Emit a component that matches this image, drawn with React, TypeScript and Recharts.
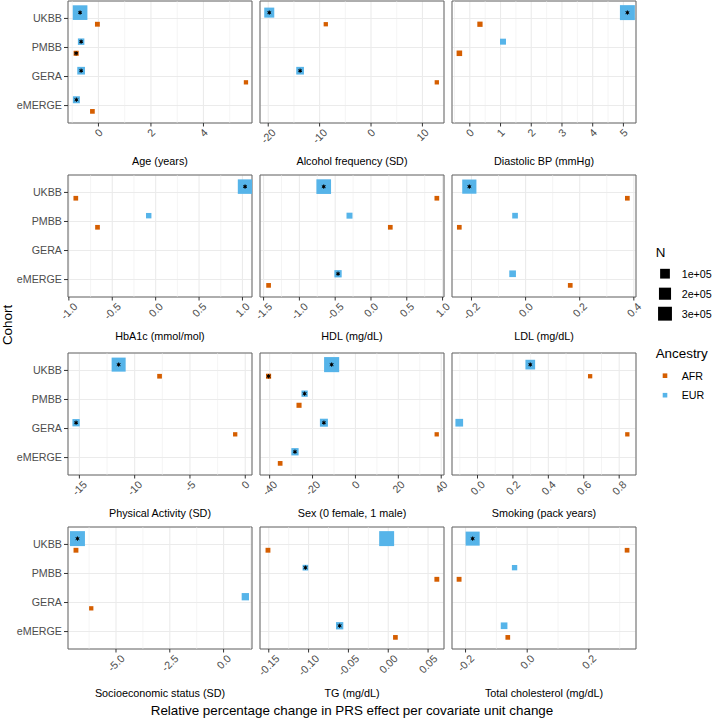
import React from "react";
import {
  CartesianGrid,
  ReferenceArea,
  ReferenceLine,
  Scatter,
  ScatterChart,
  XAxis,
  YAxis,
} from "recharts";

const COHORTS = ["UKBB", "PMBB", "GERA", "eMERGE"];
const ANCESTRIES = ["AFR", "EUR"];
const ANC_COLORS: Record<string, string> = { AFR: "#D55E00", EUR: "#56B4E9" };
const SIZE_BREAKS = [100000, 200000, 300000];
const SIZE_LABELS = ["1e+05", "2e+05", "3e+05"];

type Pt = { cohort: string; anc: "AFR" | "EUR"; x: number; n: number; sig?: boolean };

const ageYears: Pt[] = [
  { cohort: "UKBB", anc: "EUR", x: -0.7, n: 350000, sig: true },
  { cohort: "UKBB", anc: "AFR", x: -0.04, n: 5000 },
  { cohort: "PMBB", anc: "EUR", x: -0.66, n: 19000, sig: true },
  { cohort: "PMBB", anc: "AFR", x: -0.85, n: 6000, sig: true },
  { cohort: "GERA", anc: "EUR", x: -0.66, n: 41000, sig: true },
  { cohort: "GERA", anc: "AFR", x: 5.62, n: 4000 },
  { cohort: "eMERGE", anc: "EUR", x: -0.84, n: 27000, sig: true },
  { cohort: "eMERGE", anc: "AFR", x: -0.23, n: 4500 },
];

const alcohol: Pt[] = [
  { cohort: "UKBB", anc: "EUR", x: -19.8, n: 110000, sig: true },
  { cohort: "UKBB", anc: "AFR", x: -8.8, n: 4000 },
  { cohort: "GERA", anc: "EUR", x: -13.8, n: 41000, sig: true },
  { cohort: "GERA", anc: "AFR", x: 12.8, n: 4000 },
];

const diastolic: Pt[] = [
  { cohort: "UKBB", anc: "EUR", x: 5.13, n: 370000, sig: true },
  { cohort: "UKBB", anc: "AFR", x: 0.33, n: 7000 },
  { cohort: "PMBB", anc: "EUR", x: 1.08, n: 13000 },
  { cohort: "PMBB", anc: "AFR", x: -0.34, n: 9000 },
];

const hba1c: Pt[] = [
  { cohort: "UKBB", anc: "EUR", x: 1.03, n: 340000, sig: true },
  { cohort: "UKBB", anc: "AFR", x: -0.92, n: 4500 },
  { cohort: "PMBB", anc: "EUR", x: -0.08, n: 8000 },
  { cohort: "PMBB", anc: "AFR", x: -0.67, n: 4500 },
];

const hdl: Pt[] = [
  { cohort: "UKBB", anc: "EUR", x: -0.66, n: 350000, sig: true },
  { cohort: "UKBB", anc: "AFR", x: 0.92, n: 4500 },
  { cohort: "PMBB", anc: "EUR", x: -0.3, n: 13000 },
  { cohort: "PMBB", anc: "AFR", x: 0.27, n: 4500 },
  { cohort: "eMERGE", anc: "EUR", x: -0.46, n: 33000, sig: true },
  { cohort: "eMERGE", anc: "AFR", x: -1.43, n: 4500 },
];

const ldl: Pt[] = [
  { cohort: "UKBB", anc: "EUR", x: -0.208, n: 320000, sig: true },
  { cohort: "UKBB", anc: "AFR", x: 0.376, n: 4500 },
  { cohort: "PMBB", anc: "EUR", x: -0.039, n: 10000 },
  { cohort: "PMBB", anc: "AFR", x: -0.245, n: 4500 },
  { cohort: "eMERGE", anc: "EUR", x: -0.048, n: 22000 },
  { cohort: "eMERGE", anc: "AFR", x: 0.165, n: 4500 },
];

const physical: Pt[] = [
  { cohort: "UKBB", anc: "EUR", x: -11.45, n: 310000, sig: true },
  { cohort: "UKBB", anc: "AFR", x: -7.75, n: 4500 },
  { cohort: "GERA", anc: "EUR", x: -15.3, n: 33000, sig: true },
  { cohort: "GERA", anc: "AFR", x: -0.91, n: 4000 },
];

const sex: Pt[] = [
  { cohort: "UKBB", anc: "EUR", x: -11.1, n: 380000, sig: true },
  { cohort: "UKBB", anc: "AFR", x: -40.5, n: 6000, sig: true },
  { cohort: "PMBB", anc: "EUR", x: -23.7, n: 17000, sig: true },
  { cohort: "PMBB", anc: "AFR", x: -26.3, n: 6000 },
  { cohort: "GERA", anc: "EUR", x: -14.7, n: 48000, sig: true },
  { cohort: "GERA", anc: "AFR", x: 37.9, n: 4000 },
  { cohort: "eMERGE", anc: "EUR", x: -28.2, n: 33000, sig: true },
  { cohort: "eMERGE", anc: "AFR", x: -35.1, n: 4500 },
];

const smoking: Pt[] = [
  { cohort: "UKBB", anc: "EUR", x: 0.298, n: 98000, sig: true },
  { cohort: "UKBB", anc: "AFR", x: 0.636, n: 4000 },
  { cohort: "GERA", anc: "EUR", x: -0.103, n: 41000 },
  { cohort: "GERA", anc: "AFR", x: 0.846, n: 4000 },
];

const ses: Pt[] = [
  { cohort: "UKBB", anc: "EUR", x: -6.79, n: 370000, sig: true },
  { cohort: "UKBB", anc: "AFR", x: -6.86, n: 5000 },
  { cohort: "GERA", anc: "EUR", x: 1.01, n: 33000 },
  { cohort: "GERA", anc: "AFR", x: -6.15, n: 4000 },
];

const tg: Pt[] = [
  { cohort: "UKBB", anc: "EUR", x: -0.002, n: 370000 },
  { cohort: "UKBB", anc: "AFR", x: -0.151, n: 5000 },
  { cohort: "PMBB", anc: "EUR", x: -0.104, n: 10000, sig: true },
  { cohort: "PMBB", anc: "AFR", x: 0.061, n: 5000 },
  { cohort: "eMERGE", anc: "EUR", x: -0.061, n: 33000, sig: true },
  { cohort: "eMERGE", anc: "AFR", x: 0.009, n: 4500 },
];

const totalChol: Pt[] = [
  { cohort: "UKBB", anc: "EUR", x: -0.177, n: 310000, sig: true },
  { cohort: "UKBB", anc: "AFR", x: 0.324, n: 4500 },
  { cohort: "PMBB", anc: "EUR", x: -0.041, n: 7500 },
  { cohort: "PMBB", anc: "AFR", x: -0.221, n: 5000 },
  { cohort: "eMERGE", anc: "EUR", x: -0.075, n: 22000 },
  { cohort: "eMERGE", anc: "AFR", x: -0.063, n: 4500 },
];

const PANELS = [
  { title: "Age (years)", pts: ageYears, domain: [-1.16, 5.85], ticks: [0, 2, 4], digits: 0 },
  { title: "Alcohol frequency (SD)", pts: alcohol, domain: [-21.6, 14.2], ticks: [-20, -10, 0, 10], digits: 0 },
  { title: "Diastolic BP (mmHg)", pts: diastolic, domain: [-0.58, 5.41], ticks: [0, 1, 2, 3, 4, 5], digits: 0 },
  { title: "HbA1c (mmol/mol)", pts: hba1c, domain: [-1.01, 1.11], ticks: [-1, -0.5, 0, 0.5, 1], digits: 1 },
  { title: "HDL (mg/dL)", pts: hdl, domain: [-1.55, 1.02], ticks: [-1.5, -1, -0.5, 0, 0.5, 1], digits: 1 },
  { title: "LDL (mg/dL)", pts: ldl, domain: [-0.272, 0.408], ticks: [-0.2, 0, 0.2, 0.4], digits: 1 },
  { title: "Physical Activity (SD)", pts: physical, domain: [-16.03, 0.61], ticks: [-15, -10, -5, 0], digits: 0 },
  { title: "Sex (0 female, 1 male)", pts: sex, domain: [-44.5, 41.3], ticks: [-40, -20, 0, 20, 40], digits: 0 },
  { title: "Smoking (pack years)", pts: smoking, domain: [-0.144, 0.895], ticks: [0, 0.2, 0.4, 0.6, 0.8], digits: 1 },
  { title: "Socioeconomic status (SD)", pts: ses, domain: [-7.23, 1.32], ticks: [-5, -2.5, 0], digits: 1 },
  { title: "TG (mg/dL)", pts: tg, domain: [-0.161, 0.07], ticks: [-0.15, -0.1, -0.05, 0, 0.05], digits: 2 },
  { title: "Total cholesterol (mg/dL)", pts: totalChol, domain: [-0.244, 0.353], ticks: [-0.2, 0, 0.2], digits: 1 },
];

// layout of the facet grid
const COL_LEFT = [68, 259.5, 452];
const ROW_TOP = [0.7, 175, 352.7, 527.3];
const PW = 184;
const PH = 121;
const TITLE_GAP = [38.3, 38.6, 38.4, 44.4];
const SIDE = 16; // room for tick labels that hang past the panel
const FONT = '"Liberation Sans", Arial, Helvetica, sans-serif';

const sideOf = (n: number) => 4.3 + 10.5 * Math.sqrt(Math.max(0, n - 4000) / 356000);

let ctx: CanvasRenderingContext2D | null = null;
const textWidth = (s: string) => {
  if (!ctx) ctx = document.createElement("canvas").getContext("2d");
  if (!ctx) return s.length * 5.8;
  ctx.font = `10.7px ${FONT}`;
  return ctx.measureText(s).width;
};

const fmt = (v: number, digits: number) => {
  const s = v.toFixed(digits);
  return s === "-0" || /^-0\.0+$/.test(s) ? s.slice(1) : s;
};

function RotTick(props: any) {
  const { x, y, payload, digits } = props;
  const s = fmt(payload.value, digits);
  const w = textWidth(s);
  const cy = y - 0.5 + 0.354 * (w + 7);
  return (
    <text
      transform={`translate(${x},${cy}) rotate(-45)`}
      textAnchor="middle"
      dominantBaseline="central"
      fontSize={10.7}
      fill="#4D4D4D"
    >
      {s}
    </text>
  );
}

function Star({ cx, cy }: { cx: number; cy: number }) {
  const r = 2.2;
  return (
    <g stroke="#000" strokeWidth={0.9}>
      {[90, 30, 150].map((a) => {
        const dx = r * Math.cos((a * Math.PI) / 180);
        const dy = r * Math.sin((a * Math.PI) / 180);
        return <line key={a} x1={cx - dx} y1={cy - dy} x2={cx + dx} y2={cy + dy} />;
      })}
      <circle cx={cx} cy={cy} r={1.3} fill="#000" stroke="none" />
    </g>
  );
}

function Mark(props: any) {
  const { cx, cy, payload } = props;
  if (cx == null || cy == null) return null;
  const s = sideOf(payload.n);
  return (
    <g>
      <rect x={cx - s / 2} y={cy - s / 2} width={s} height={s} fill={ANC_COLORS[payload.anc]} />
      {payload.sig && <Star cx={cx} cy={cy} />}
    </g>
  );
}

function Panel({ idx }: { idx: number }) {
  const p = PANELS[idx];
  const col = idx % 3;
  const row = Math.floor(idx / 3);
  const yw = col === 0 ? 68 : 0;
  const ml = col === 0 ? 1 : SIDE;
  const data = p.pts.map((d) => ({
    ...d,
    y: COHORTS.indexOf(d.cohort) + 1 + (d.anc === "EUR" ? -0.2 : 0.2),
  }));
  const step = p.ticks[1] - p.ticks[0];
  const minors = [p.ticks[0] - step / 2, ...p.ticks.map((t) => t + step / 2)].filter(
    (v) => v > p.domain[0] && v < p.domain[1]
  );
  const gap = TITLE_GAP[row];
  return (
    <div style={{ position: "absolute", left: COL_LEFT[col] - yw - ml, top: ROW_TOP[row] - 1 }}>
      <ScatterChart
        width={ml + yw + PW + SIDE}
        height={PH + 2 + 62}
        margin={{ top: 1, right: SIDE, bottom: 0, left: ml }}
      >
        <CartesianGrid stroke="#EBEBEB" strokeWidth={1.1} />
        {minors.map((m) => (
          <ReferenceLine key={m} x={m} stroke="#EBEBEB" strokeWidth={0.55} />
        ))}
        <XAxis
          type="number"
          dataKey="x"
          domain={p.domain}
          ticks={p.ticks}
          interval={0}
          allowDataOverflow
          axisLine={false}
          tickSize={3.5}
          tickLine={{ stroke: "#333333" }}
          height={62}
          tick={<RotTick digits={p.digits} />}
          label={(lp: any) => {
            const vb = lp.viewBox;
            return (
              <text
                x={vb.x + vb.width / 2}
                y={vb.y + gap + 3.9}
                textAnchor="middle"
                fontSize={10.8}
                fill="#000"
              >
                {p.title}
              </text>
            );
          }}
        />
        <YAxis
          type="number"
          dataKey="y"
          domain={[0.4, 4.6]}
          reversed
          ticks={[1, 2, 3, 4]}
          interval={0}
          hide={col !== 0}
          width={68}
          axisLine={false}
          tickSize={4}
          tickMargin={2}
          tickLine={{ stroke: "#333333" }}
          tick={{ fill: "#4D4D4D", fontSize: 10.7 }}
          tickFormatter={(v: number) => COHORTS[v - 1]}
        />
        <ReferenceArea
          x1={p.domain[0]}
          x2={p.domain[1]}
          y1={0.4}
          y2={4.6}
          fill="none"
          fillOpacity={0}
          stroke="#666666"
          strokeWidth={1}
          ifOverflow="visible"
        />
        <Scatter data={data} shape={<Mark />} isAnimationActive={false} />
      </ScatterChart>
    </div>
  );
}

function Overlay() {
  return (
    <svg
      width={712}
      height={719}
      style={{ position: "absolute", left: 0, top: 0, pointerEvents: "none" }}
      fontFamily={FONT}
    >
      <text transform="translate(12,325) rotate(-90)" textAnchor="middle" fontSize={13.4} fill="#000">
        Cohort
      </text>
      <text x={352} y={714.8} textAnchor="middle" fontSize={13.4} fill="#000">
        Relative percentage change in PRS effect per covariate unit change
      </text>
      <text x={655.7} y={256.5} fontSize={13.4} fill="#000">
        N
      </text>
      {SIZE_BREAKS.map((b, i) => {
        const cy = 273.7 + i * 20;
        const s = sideOf(b);
        return (
          <g key={b}>
            <rect x={665 - s / 2} y={cy - s / 2} width={s} height={s} fill="#000" />
            <text x={681.7} y={cy + 3.8} fontSize={10.7} fill="#000">
              {SIZE_LABELS[i]}
            </text>
          </g>
        );
      })}
      <text x={655.7} y={358} fontSize={13.4} fill="#000">
        Ancestry
      </text>
      {ANCESTRIES.map((a, i) => {
        const cy = 375.7 + i * 19.5;
        return (
          <g key={a}>
            <rect x={665 - 2.3} y={cy - 2.3} width={4.6} height={4.6} fill={ANC_COLORS[a]} />
            <text x={681.7} y={cy + 3.8} fontSize={10.7} fill="#000">
              {a}
            </text>
          </g>
        );
      })}
    </svg>
  );
}

export default function App() {
  return (
    <div
      style={{
        position: "absolute",
        left: 0,
        top: 0,
        width: 712,
        height: 719,
        background: "#fff",
        fontFamily: FONT,
        overflow: "hidden",
      }}
    >
      {PANELS.map((_, i) => (
        <Panel key={i} idx={i} />
      ))}
      <Overlay />
    </div>
  );
}
